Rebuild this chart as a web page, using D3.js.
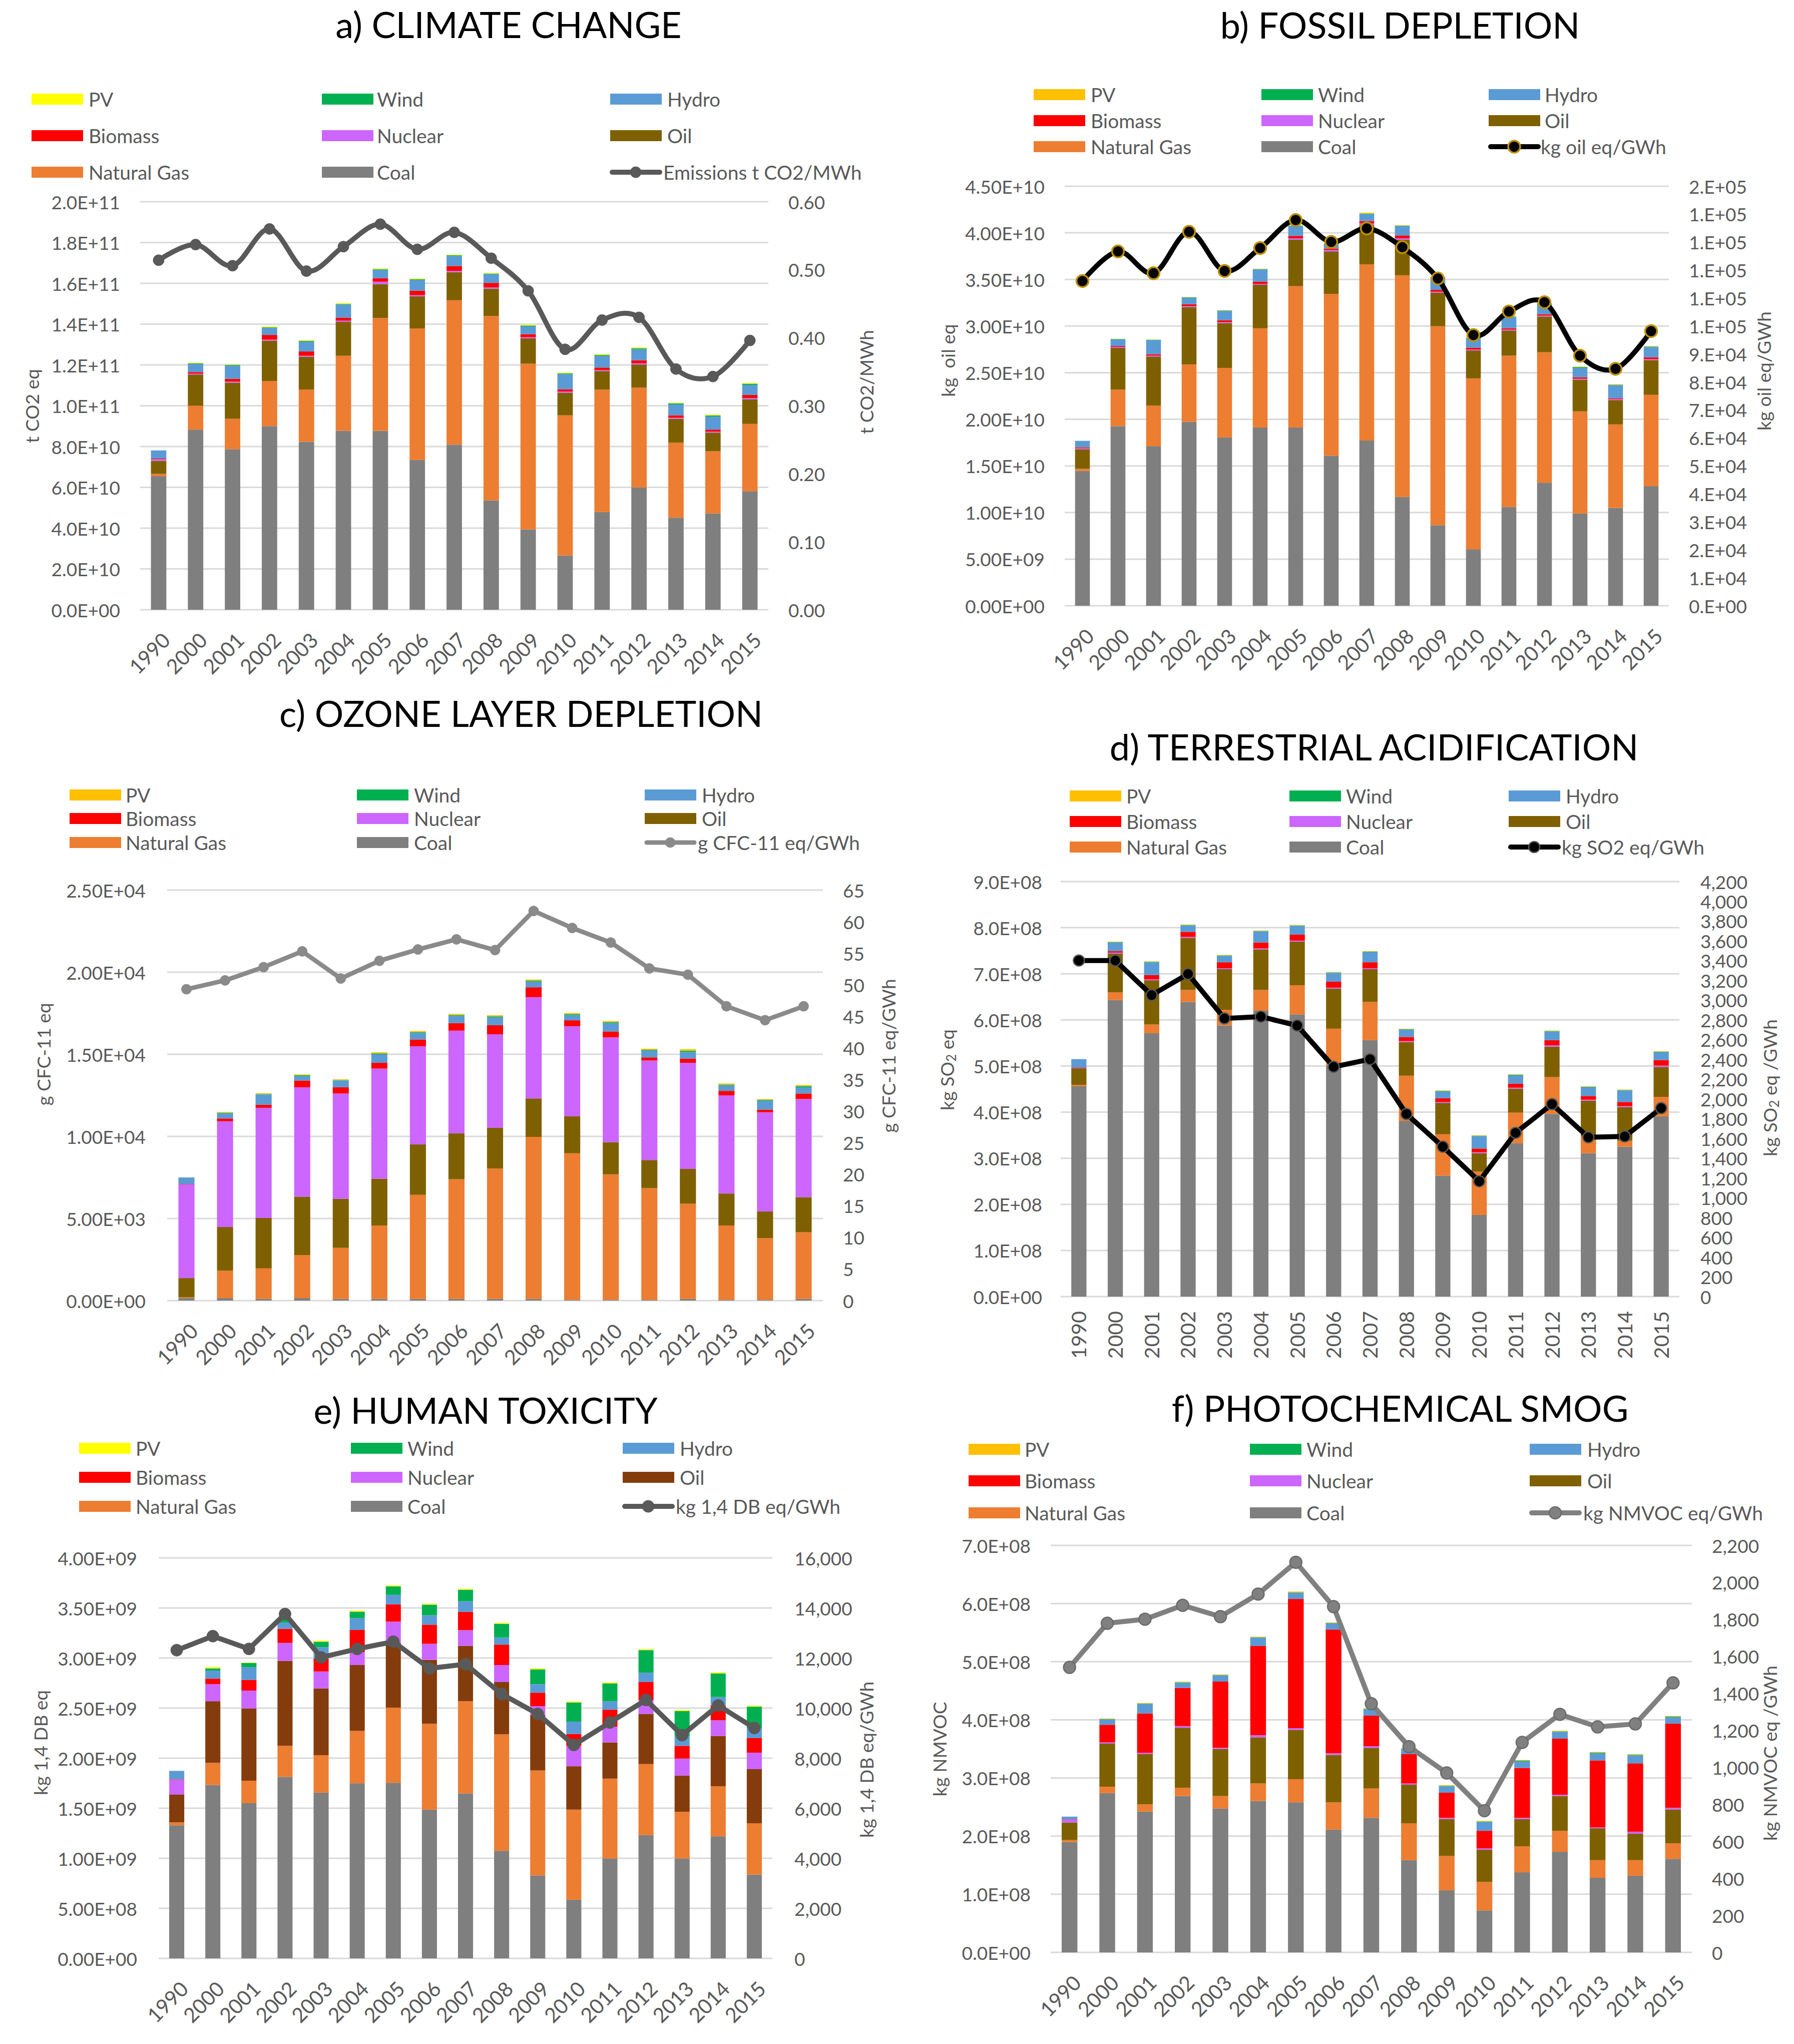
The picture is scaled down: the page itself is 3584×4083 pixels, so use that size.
<!DOCTYPE html>
<html><head><meta charset="utf-8">
<script src="https://cdn.jsdelivr.net/npm/d3@7/dist/d3.min.js"></script>
<style>
body{margin:0;background:#fff}
svg{display:block;background:#fff}
text{font-family:Lato,'Open Sans',sans-serif}
</style>
</head><body>
<svg id="chart" width="3584" height="4083"></svg>
<script>
const YEARS = ["1990","2000","2001","2002","2003","2004","2005","2006","2007","2008","2009","2010","2011","2012","2013","2014","2015"];
const SERIES = ["Coal","Natural Gas","Oil","Nuclear","Biomass","Hydro","Wind","PV"];

// a) Climate change, t CO2 eq (x1e9); line t CO2/MWh
const A_COAL = [65.5,88.3,78.7,90.0,82.3,87.7,87.7,73.4,80.9,53.6,39.4,26.6,47.9,60.0,45.1,47.2,58.1];
const A_GAS  = [1.1,11.7,14.9,22.1,25.6,36.8,55.3,64.5,70.8,90.4,81.2,68.7,60.0,48.9,36.8,30.5,33.0];
const A_OIL  = [6.4,15.3,17.7,19.8,16.1,16.6,16.6,15.7,13.8,13.4,12.4,11.1,9.1,11.3,11.7,9.1,12.1];
const A_NUC  = [0.8,0.4,0.5,0.5,0.5,0.6,1.2,0.6,0.6,0.6,0.6,0.6,0.5,0.6,0.5,0.5,0.6];
const A_BIO  = [0.3,0.8,1.4,2.3,2.1,1.5,1.7,2.2,2.4,2.2,1.5,1.1,1.2,1.5,1.2,1.0,1.5];
const A_HYD  = [4.0,4.0,6.6,3.4,4.9,6.4,4.2,5.3,4.9,4.3,3.8,7.4,5.8,5.4,5.3,6.4,4.9];
const A_WIND = [0,0.3,0.3,0.3,0.3,0.3,0.3,0.3,0.4,0.3,0.4,0.4,0.4,0.5,0.5,0.5,0.6];
const A_PV   = [0,0.3,0.3,0.4,0.4,0.4,0.4,0.4,0.3,0.3,0.4,0.3,0.4,0.4,0.3,0.4,0.4];
const A_LINE = [0.514,0.537,0.506,0.560,0.498,0.534,0.567,0.530,0.555,0.517,0.469,0.383,0.426,0.430,0.354,0.343,0.396];

// b) Fossil depletion, kg oil eq (x1e9); line kg oil eq/GWh (x1e3)
const B_COAL = [14.46,19.26,17.12,19.73,18.05,19.12,19.12,16.09,17.72,11.66,8.63,6.06,10.59,13.2,9.89,10.49,12.83];
const B_GAS  = [0.23,3.92,4.34,6.16,7.46,10.64,15.16,17.35,18.89,23.79,21.36,18.33,16.23,13.99,10.96,8.96,9.79];
const B_OIL  = [2.1,4.48,5.27,6.15,4.81,4.66,4.99,4.57,4.2,3.82,3.59,2.99,2.7,3.83,3.4,2.61,3.73];
const B_NUC  = [0.1,0.1,0.1,0.1,0.1,0.1,0.15,0.15,0.2,0.15,0.1,0.1,0.1,0.1,0.1,0.1,0.1];
const B_BIO  = [0.1,0.1,0.15,0.2,0.2,0.25,0.25,0.15,0.25,0.3,0.2,0.2,0.15,0.15,0.15,0.1,0.2];
const B_HYD  = [0.7,0.7,1.5,0.7,1.0,1.3,1.05,0.5,0.75,1.0,1.3,1.0,1.2,1.1,1.0,1.4,1.1];
const B_WIND = [0,0.05,0.05,0.05,0.05,0.05,0.05,0.05,0.05,0.05,0.05,0.05,0.05,0.05,0.1,0.05,0.05];
const B_PV   = [0,0.02,0.02,0.02,0.03,0.03,0.03,0.03,0.1,0.05,0.03,0.03,0.05,0.05,0.05,0.05,0.05];
const B_LINE = [116.1,126.7,118.9,133.7,119.7,127.9,137.9,130.1,134.9,128.2,117.0,96.8,105.2,108.5,89.4,84.7,98.2];

// c) Ozone layer depletion, g CFC-11 eq (x1e3); line g CFC-11 eq/GWh
const C_COAL = [0.15,0.15,0.1,0.15,0.1,0.1,0.1,0.1,0.1,0.1,0.05,0.05,0.05,0.1,0.05,0.05,0.1];
const C_GAS  = [0.05,1.67,1.86,2.62,3.11,4.47,6.34,7.29,7.94,9.87,8.92,7.64,6.8,5.8,4.52,3.75,4.06];
const C_OIL  = [1.17,2.66,3.07,3.56,2.99,2.85,3.07,2.8,2.48,2.34,2.25,1.96,1.71,2.12,1.95,1.63,2.14];
const C_NUC  = [5.71,6.44,6.71,6.66,6.41,6.71,5.98,6.25,5.7,6.17,5.49,6.38,6.06,6.46,5.98,6.04,5.98];
const C_BIO  = [0.02,0.17,0.19,0.41,0.38,0.35,0.41,0.46,0.55,0.6,0.36,0.36,0.19,0.25,0.27,0.16,0.33];
const C_HYD  = [0.4,0.32,0.62,0.27,0.41,0.52,0.4,0.44,0.49,0.35,0.32,0.51,0.41,0.41,0.33,0.54,0.38];
const C_WIND = [0,0.03,0.03,0.05,0.03,0.05,0.05,0.05,0.05,0.05,0.05,0.05,0.05,0.07,0.05,0.05,0.07];
const C_PV   = [0,0.05,0.05,0.05,0.05,0.07,0.07,0.07,0.07,0.07,0.07,0.07,0.07,0.1,0.07,0.05,0.07];
const C_LINE = [49.3,50.7,52.8,55.3,51.0,53.8,55.6,57.2,55.5,61.7,59.0,56.7,52.6,51.6,46.6,44.4,46.6];

// d) Terrestrial acidification, kg SO2 eq (x1e8); line kg SO2 eq/GWh
const D_COAL = [4.56,6.43,5.71,6.39,5.88,6.2,6.12,5.01,5.56,3.81,2.62,1.77,3.33,3.96,3.11,3.25,3.91];
const D_GAS  = [0.03,0.17,0.19,0.26,0.34,0.45,0.63,0.8,0.83,0.98,0.9,0.94,0.66,0.8,0.36,0.13,0.42];
const D_OIL  = [0.36,0.84,0.96,1.13,0.88,0.88,0.95,0.87,0.71,0.73,0.68,0.4,0.52,0.66,0.78,0.73,0.65];
const D_NUC  = [0.01,0.02,0.02,0.02,0.02,0.02,0.02,0.02,0.02,0.02,0.02,0.02,0.02,0.03,0.02,0.02,0.03];
const D_BIO  = [0.01,0.03,0.09,0.11,0.13,0.13,0.13,0.13,0.13,0.09,0.08,0.08,0.09,0.11,0.08,0.09,0.12];
const D_HYD  = [0.18,0.19,0.28,0.14,0.14,0.24,0.19,0.19,0.22,0.16,0.15,0.27,0.18,0.19,0.19,0.25,0.17];
const D_WIND = [0,0.01,0.01,0.01,0.01,0.01,0.01,0.01,0.01,0.01,0.01,0.01,0.01,0.01,0.01,0.01,0.01];
const D_PV   = [0,0.01,0.01,0.01,0.01,0.01,0.01,0.01,0.01,0.01,0.01,0.01,0.01,0.01,0.01,0.01,0.01];
const D_LINE = [3401,3401,3051,3265,2815,2833,2743,2325,2402,1848,1517,1167,1657,1948,1612,1621,1907];

// e) Human toxicity, kg 1,4 DB eq (x1e9); line kg 1,4 DB eq/GWh
const E_COAL = [1.329,1.732,1.55,1.813,1.656,1.749,1.754,1.486,1.648,1.074,0.828,0.586,0.998,1.231,0.998,1.219,0.837];
const E_GAS  = [0.03,0.221,0.225,0.31,0.374,0.523,0.751,0.858,0.921,1.164,1.049,0.9,0.798,0.71,0.467,0.501,0.513];
const E_OIL  = [0.276,0.616,0.722,0.849,0.666,0.658,0.645,0.637,0.552,0.522,0.553,0.433,0.361,0.501,0.361,0.501,0.54];
const E_NUC  = [0.148,0.17,0.178,0.179,0.17,0.13,0.213,0.161,0.157,0.17,0.09,0.204,0.157,0.138,0.17,0.157,0.165];
const E_BIO  = [0.005,0.055,0.106,0.14,0.128,0.22,0.174,0.191,0.183,0.204,0.134,0.119,0.17,0.18,0.127,0.149,0.145];
const E_HYD  = [0.085,0.081,0.128,0.064,0.114,0.119,0.094,0.094,0.106,0.072,0.085,0.123,0.085,0.094,0.094,0.084,0.1];
const E_WIND = [0,0.021,0.042,0.03,0.055,0.064,0.084,0.106,0.115,0.136,0.148,0.191,0.178,0.225,0.254,0.234,0.214];
const E_PV   = [0,0.013,0.005,0.005,0.01,0.01,0.01,0.01,0.01,0.01,0.01,0.01,0.01,0.01,0.01,0.01,0.01];
const E_LINE = [12314,12875,12365,13758,12025,12365,12654,11584,11754,10565,9766,8527,9427,10327,8917,10106,9206];

// f) Photochemical smog, kg NMVOC (x1e8); line kg NMVOC eq/GWh
const F_COAL = [1.896,2.74,2.422,2.689,2.473,2.603,2.581,2.112,2.314,1.586,1.067,0.721,1.377,1.73,1.283,1.319,1.608];
const F_GAS  = [0.036,0.108,0.123,0.144,0.216,0.303,0.397,0.469,0.505,0.635,0.591,0.49,0.447,0.361,0.303,0.267,0.267];
const F_OIL  = [0.303,0.742,0.865,1.031,0.808,0.793,0.85,0.815,0.699,0.663,0.635,0.555,0.469,0.598,0.548,0.454,0.584];
const F_NUC  = [0.05,0.022,0.022,0.029,0.021,0.036,0.029,0.029,0.029,0.022,0.021,0.022,0.021,0.022,0.015,0.036,0.028];
const F_BIO  = [0.005,0.303,0.678,0.656,1.14,1.535,2.221,2.127,0.527,0.504,0.433,0.303,0.858,0.966,1.153,1.176,1.45];
const F_HYD  = [0.045,0.094,0.165,0.087,0.108,0.145,0.108,0.108,0.11,0.09,0.108,0.151,0.116,0.115,0.123,0.137,0.108];
const F_WIND = [0,0.005,0.005,0.01,0.005,0.005,0.005,0.005,0.005,0.005,0.01,0.01,0.01,0.01,0.01,0.01,0.01];
const F_PV   = [0,0.01,0.01,0.01,0.01,0.01,0.015,0.01,0.01,0.01,0.01,0.01,0.01,0.01,0.01,0.01,0.01];
const F_LINE = [1541,1779,1801,1876,1815,1937,2109,1869,1344,1112,970,766,1135,1287,1219,1235,1457];

// axis ranges [max, step] in stored units
const A_LEFT = [200, 20], A_RIGHT = [0.6, 0.1];
const B_LEFT = [45, 5],   B_RIGHT = [150, 10];
const C_LEFT = [25, 5],   C_RIGHT = [65, 5];
const D_LEFT = [9, 1],    D_RIGHT = [4200, 200];
const E_LEFT = [4, 0.5],  E_RIGHT = [16000, 2000];
const F_LEFT = [7, 1],    F_RIGHT = [2200, 200];

const LINE_NAMES = ["Emissions t CO2/MWh","kg oil eq/GWh","g CFC-11 eq/GWh","kg SO2 eq/GWh","kg 1,4 DB eq/GWh","kg NMVOC eq/GWh"];

function excelSci(v, dec){
  if (v === 0) return (dec === 0 ? "0." : (0).toFixed(dec)) + "E+00";
  let e = Math.floor(Math.log10(Math.abs(v)) + 1e-9);
  let m = v / Math.pow(10, e);
  let mr = dec === 0 ? Math.round(m) : +m.toFixed(dec);
  if (mr >= 10) { e += 1; m = m / 10; mr = dec === 0 ? Math.round(m) : +m.toFixed(dec); }
  const ms = dec === 0 ? (mr + ".") : mr.toFixed(dec);
  return ms + "E" + (e < 0 ? "-" : "+") + String(Math.abs(e)).padStart(2, "0");
}

const COL = {coal:"#7f7f7f", gas:"#ed7d31", oilA:"#7f6000", oilE:"#843c0c", nuc:"#cc66ff", bio:"#ff0000", hyd:"#5b9bd5", wind:"#00b050", pvY:"#ffff00", pvG:"#ffc000"};
const TXT = "#595959";

function mk(coal,gas,oil,nuc,bio,hyd,wind,pv){ return [coal,gas,oil,nuc,bio,hyd,wind,pv]; }

const PANELS = [
 {title:"a) CLIMATE CHANGE", data:mk(A_COAL,A_GAS,A_OIL,A_NUC,A_BIO,A_HYD,A_WIND,A_PV), line:A_LINE, L:A_LEFT, R:A_RIGHT,
  lFmt:d=>excelSci(d*1e9,1), rFmt:d=>d.toFixed(2), oil:COL.oilA, pv:COL.pvY,
  lineStyle:{stroke:"#595959", w:10, r:11, fill:"#595959", ms:"#595959", msw:1, smooth:true},
  lTitle:["t CO2 eq"], rTitle:["t CO2/MWh"],
  tx:1016, ty:76, rows:[198,271,344], swX:[63,643,1219], txX:[177,753,1333],
  x0:280, x1:1535, top:403, bottom:1218, lblL:240, lblR:1575, lT:[63,811], rT:[1730,763], rot:-45},
 {title:"b) FOSSIL DEPLETION", data:mk(B_COAL,B_GAS,B_OIL,B_NUC,B_BIO,B_HYD,B_WIND,B_PV), line:B_LINE, L:B_LEFT, R:B_RIGHT,
  lFmt:d=>excelSci(d*1e9,2), rFmt:d=>excelSci(d*1e3,0), oil:COL.oilA, pv:COL.pvG,
  lineStyle:{stroke:"#000000", w:10, r:12, fill:"#000000", ms:"#bf9000", msw:3.5, smooth:true},
  lTitle:["kg  oil eq"], rTitle:["kg oil eq/GWh"],
  tx:2797, ty:77, rows:[189,241,293], swX:[2065,2520,2974], txX:[2179,2633,3086],
  x0:2127, x1:3334, top:372, bottom:1210, lblL:2087, lblR:3374, lT:[1893,720], rT:[3523,741], rot:-45},
 {title:"c) OZONE LAYER DEPLETION", data:mk(C_COAL,C_GAS,C_OIL,C_NUC,C_BIO,C_HYD,C_WIND,C_PV), line:C_LINE, L:C_LEFT, R:C_RIGHT,
  lFmt:d=>excelSci(d*1e3,2), rFmt:d=>String(d), oil:COL.oilA, pv:COL.pvG,
  lineStyle:{stroke:"#8a8a8a", w:9, r:10, fill:"#8a8a8a", ms:"#8a8a8a", msw:1, smooth:false},
  lTitle:["g CFC-11 eq"], rTitle:["g CFC-11 eq/GWh"],
  tx:1041, ty:1452, rows:[1588,1635,1683], swX:[139,713,1288], txX:[251,827,1402],
  x0:334, x1:1644, top:1778, bottom:2598, lblL:291, lblR:1684, lT:[86,2106], rT:[1774,2109], rot:-45},
 {title:"d) TERRESTRIAL ACIDIFICATION", data:mk(D_COAL,D_GAS,D_OIL,D_NUC,D_BIO,D_HYD,D_WIND,D_PV), line:D_LINE, L:D_LEFT, R:D_RIGHT,
  lFmt:d=>excelSci(d*1e8,1), rFmt:d3.format(","), oil:COL.oilA, pv:COL.pvG,
  lineStyle:{stroke:"#000000", w:10, r:11, fill:"#000000", ms:"#595959", msw:2.5, smooth:false},
  lTitle:["kg SO","2"," eq"], rTitle:["kg SO","2"," eq /GWh"],
  tx:2745, ty:1519, rows:[1590,1641,1692], swX:[2137,2576,3014], txX:[2250,2689,3128],
  x0:2119, x1:3355, top:1761, bottom:2590, lblL:2082, lblR:3397, lT:[1891,2137], rT:[3535,2173], rot:-90},
 {title:"e) HUMAN TOXICITY", data:mk(E_COAL,E_GAS,E_OIL,E_NUC,E_BIO,E_HYD,E_WIND,E_PV), line:E_LINE, L:E_LEFT, R:E_RIGHT,
  lFmt:d=>excelSci(d*1e9,2), rFmt:d3.format(","), oil:COL.oilE, pv:COL.pvY,
  lineStyle:{stroke:"#595959", w:10, r:12, fill:"#595959", ms:"#595959", msw:1, smooth:false},
  lTitle:["kg 1,4 DB eq"], rTitle:["kg 1,4 DB eq/GWh"],
  tx:970, ty:2844, rows:[2893,2951,3009], swX:[158,701,1244], txX:[271,814,1358],
  x0:317, x1:1543, top:3112, bottom:3912, lblL:274, lblR:1587, lT:[80,3481], rT:[1730,3515], rot:-45},
 {title:"f) PHOTOCHEMICAL SMOG", data:mk(F_COAL,F_GAS,F_OIL,F_NUC,F_BIO,F_HYD,F_WIND,F_PV), line:F_LINE, L:F_LEFT, R:F_RIGHT,
  lFmt:d=>excelSci(d*1e8,1), rFmt:d3.format(","), oil:COL.oilA, pv:COL.pvG,
  lineStyle:{stroke:"#808080", w:10, r:12, fill:"#808080", ms:"#6a6a6a", msw:2.5, smooth:false},
  lTitle:["kg NMVOC"], rTitle:["kg NMVOC eq /GWh"],
  tx:2797, ty:2840, rows:[2895,2958,3022], swX:[1935,2497,3056], txX:[2047,2610,3171],
  x0:2099, x1:3380, top:3087, bottom:3900, lblL:2059, lblR:3420, lT:[1876,3494], rT:[3535,3502], rot:-45}
];

const svg = d3.select("#chart");
svg.append("rect").attr("width",3584).attr("height",4083).attr("fill","#fff");

function axisTitle(g, parts, pos){
  const t = g.append("text").attr("transform",`translate(${pos[0]},${pos[1]}) rotate(-90)`)
    .attr("text-anchor","middle").attr("dominant-baseline","central")
    .attr("font-size",37).attr("fill",TXT);
  if (parts.length === 1) { t.text(parts[0]).attr("style","white-space:pre"); }
  else {
    t.append("tspan").text(parts[0]);
    t.append("tspan").text(parts[1]).attr("font-size",26).attr("dy",9);
    t.append("tspan").text(parts[2]).attr("dy",-9).attr("style","white-space:pre");
  }
}

PANELS.forEach((p, pi) => {
  const g = svg.append("g");
  const colors = [COL.coal, COL.gas, p.oil, COL.nuc, COL.bio, COL.hyd, COL.wind, p.pv];
  const x = d3.scaleBand().domain(YEARS).range([p.x0, p.x1]).paddingInner(0.583).paddingOuter(0.2915);
  const yL = d3.scaleLinear().domain([0, p.L[0]]).range([p.bottom, p.top]);
  const yR = d3.scaleLinear().domain([0, p.R[0]]).range([p.bottom, p.top]);
  const lt = d3.range(0, Math.round(p.L[0]/p.L[1]) + 1).map(i => i * p.L[1]);
  const rt = d3.range(0, Math.round(p.R[0]/p.R[1]) + 1).map(i => i * p.R[1]);

  // title
  g.append("text").attr("x", p.tx).attr("y", p.ty).attr("text-anchor","middle")
    .attr("font-size",72).attr("fill","#000").text(p.title);

  // gridlines
  g.append("g").selectAll("line").data(lt).join("line")
    .attr("x1", p.x0).attr("x2", p.x1).attr("y1", d => yL(d)).attr("y2", d => yL(d))
    .attr("stroke","#d9d9d9").attr("stroke-width",3);

  // stacked bars
  const cum = YEARS.map(() => 0);
  p.data.forEach((vals, si) => {
    const segs = vals.map((v, i) => { const s = {i, a: cum[i], b: cum[i] + v}; cum[i] += v; return s; });
    g.append("g").selectAll("rect").data(segs.filter(s => s.b > s.a)).join("rect")
      .attr("x", s => x(YEARS[s.i])).attr("width", x.bandwidth())
      .attr("y", s => yL(s.b)).attr("height", s => yL(s.a) - yL(s.b))
      .attr("fill", colors[si]);
  });

  // left tick labels
  g.append("g").selectAll("text").data(lt).join("text")
    .attr("x", p.lblL).attr("y", d => yL(d)).attr("text-anchor","end").attr("dominant-baseline","central")
    .attr("font-size",37).attr("fill",TXT).text(p.lFmt);
  // right tick labels
  g.append("g").selectAll("text").data(rt).join("text")
    .attr("x", p.lblR).attr("y", d => yR(d)).attr("text-anchor","start").attr("dominant-baseline","central")
    .attr("font-size",37).attr("fill",TXT).text(p.rFmt);

  // category labels
  const xl = g.append("g").selectAll("text").data(YEARS).join("text")
    .attr("font-size",41).attr("fill",TXT).attr("text-anchor","end").text(d => d);
  if (p.rot === -90) {
    xl.attr("transform", d => `translate(${x(d) + x.bandwidth()/2 + 15},${p.bottom + 29}) rotate(-90)`);
  } else {
    xl.attr("transform", d => `translate(${x(d) + x.bandwidth()/2 + 26},${p.bottom + 64}) rotate(-45)`);
  }

  // axis titles
  axisTitle(g, p.lTitle, p.lT);
  axisTitle(g, p.rTitle, p.rT);

  // line series
  const ls = p.lineStyle;
  const cx = i => x(YEARS[i]) + x.bandwidth()/2;
  const lineGen = d3.line().x((d,i) => cx(i)).y(d => yR(d)).curve(ls.smooth ? d3.curveCardinal : d3.curveLinear);
  g.append("path").datum(p.line).attr("d", lineGen).attr("fill","none")
    .attr("stroke", ls.stroke).attr("stroke-width", ls.w).attr("stroke-linejoin","round").attr("stroke-linecap","round");
  g.append("g").selectAll("circle").data(p.line).join("circle")
    .attr("cx", (d,i) => cx(i)).attr("cy", d => yR(d)).attr("r", ls.r)
    .attr("fill", ls.fill).attr("stroke", ls.ms).attr("stroke-width", ls.msw);

  // legend: rows [PV, Wind, Hydro], [Biomass, Nuclear, Oil], [Natural Gas, Coal, line]
  const legendOrder = [[7,6,5],[4,3,2],[1,0,-1]];
  const lg = g.append("g");
  legendOrder.forEach((row, ri) => {
    row.forEach((si, ci) => {
      const y = p.rows[ri];
      const sx = p.swX[ci];
      if (si >= 0) {
        lg.append("rect").attr("x", sx).attr("y", y - 11).attr("width", 103).attr("height", 22).attr("fill", colors[si]);
        lg.append("text").attr("x", p.txX[ci]).attr("y", y).attr("dominant-baseline","central")
          .attr("font-size",39).attr("fill",TXT).text(SERIES[si]);
      } else {
        lg.append("line").attr("x1", sx + 4).attr("x2", sx + 99).attr("y1", y).attr("y2", y)
          .attr("stroke", ls.stroke).attr("stroke-width", ls.w).attr("stroke-linecap","round");
        lg.append("circle").attr("cx", sx + 51).attr("cy", y).attr("r", ls.r)
          .attr("fill", ls.fill).attr("stroke", ls.ms).attr("stroke-width", ls.msw);
        lg.append("text").attr("x", p.txX[ci] - 8).attr("y", y).attr("dominant-baseline","central")
          .attr("font-size",39).attr("fill",TXT).text(LINE_NAMES[pi]);
      }
    });
  });
});
</script>
</body></html>
